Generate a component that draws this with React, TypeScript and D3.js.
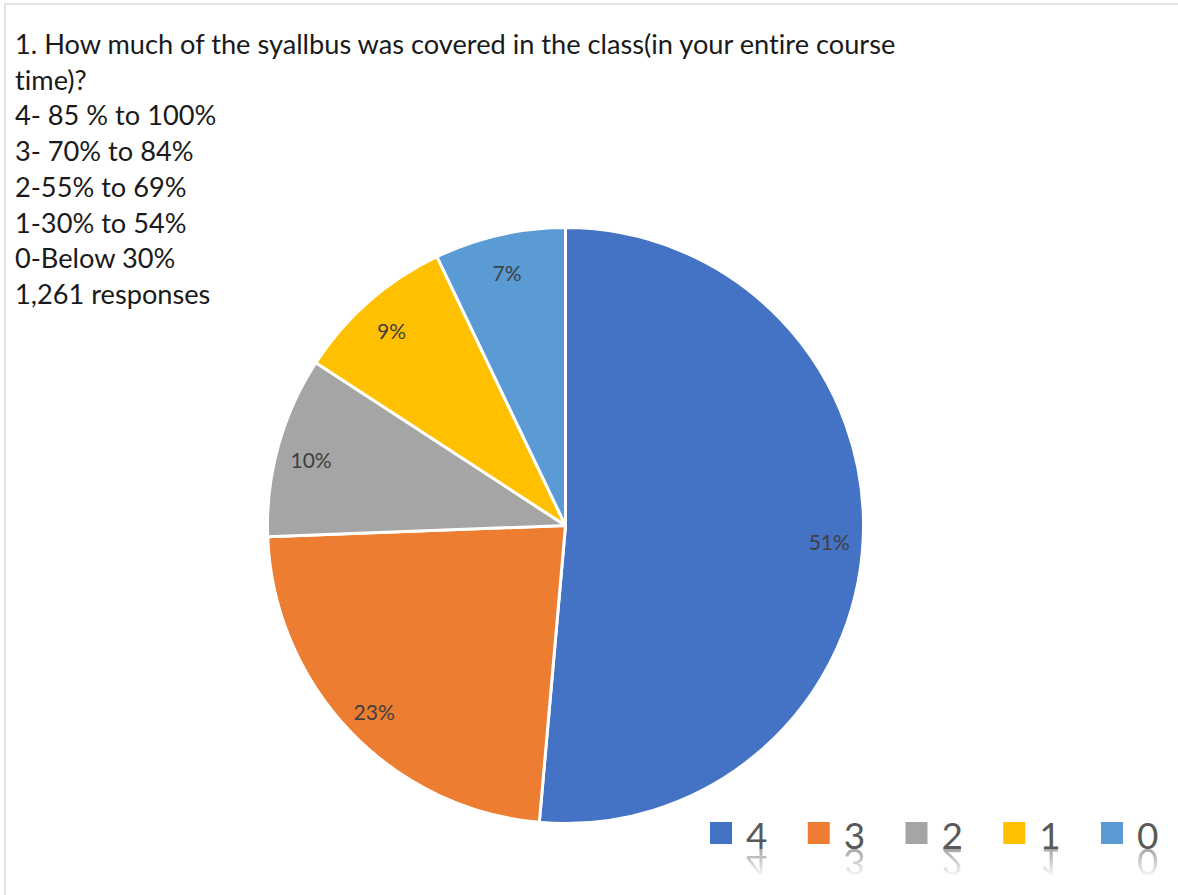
import React from "react";
import * as d3 from "d3";

const categories = ["4", "3", "2", "1", "0"];
const values = [51.4, 23.0, 9.8, 8.7, 7.1];
const colors = ["#4472C4", "#ED7D31", "#A5A5A5", "#FFC000", "#5B9BD5"];
const titleLines = [
  "1. How much of the syallbus was covered in the class(in your entire course",
  "time)?",
  "4- 85 % to 100%",
  "3- 70% to 84%",
  "2-55% to 69%",
  "1-30% to 54%",
  "0-Below 30%",
  "1,261 responses",
];

const W = 1178;
const H = 895;
const cx = 565.5;
const cy = 525.5;
const R = 298;
const labelR = 264;
const FONT = "Lato, 'Open Sans', sans-serif";

export default function App() {
  const pie = d3
    .pie<number>()
    .sort(null)
    .value((d) => d)
    .startAngle(0)
    .endAngle(2 * Math.PI);
  const arcs = pie(values);
  const arc = d3.arc<d3.PieArcDatum<number>>().innerRadius(0).outerRadius(R);
  const labelArc = d3
    .arc<d3.PieArcDatum<number>>()
    .innerRadius(labelR)
    .outerRadius(labelR);

  const legendX = d3
    .scalePoint<string>()
    .domain(categories)
    .range([710, 1101]);

  return (
    <svg
      width={W}
      height={H}
      style={{ position: "absolute", left: 0, top: 0, background: "#fff", fontVariantLigatures: "none" }}
    >
      <defs>
        <linearGradient id="reflGrad" x1="0" y1="0" x2="0" y2="1">
          <stop offset="0" stopColor="#fff" stopOpacity={0.55} />
          <stop offset="1" stopColor="#fff" stopOpacity={0} />
        </linearGradient>
        <mask id="reflMask" maskUnits="userSpaceOnUse" x={0} y={846} width={W} height={40}>
          <rect x={0} y={848} width={W} height={30} fill="url(#reflGrad)" />
        </mask>
        <filter id="blur1">
          <feGaussianBlur stdDeviation="0.6" />
        </filter>
      </defs>
      <rect x={0} y={0} width={W} height={H} fill="#fff" />
      <rect
        x={5}
        y={4}
        width={W + 20}
        height={H + 20}
        fill="none"
        stroke="#d9d9d9"
        strokeWidth={1.5}
      />
      <g fontFamily={FONT} fontSize={27.2} fill="#1a1a1a">
        {titleLines.map((t, i) => (
          <text key={i} x={15} y={54 + i * 35.7}>
            {t}
          </text>
        ))}
      </g>
      <g transform={`translate(${cx},${cy})`}>
        {arcs.map((a, i) => (
          <path
            key={i}
            d={arc(a) || ""}
            fill={colors[i]}
            stroke="#fff"
            strokeWidth={3}
            strokeLinejoin="round"
          />
        ))}
        {arcs.map((a, i) => {
          const [x, y] = labelArc.centroid(a);
          return (
            <text
              key={"l" + i}
              x={x}
              y={y + 4}
              textAnchor="middle"
              dominantBaseline="central"
              fontFamily={FONT}
              fontSize={21}
              fill="#404040"
            >
              {Math.round(values[i])}%
            </text>
          );
        })}
      </g>
      <g fontFamily={FONT}>
        {categories.map((c, i) => {
          const x = legendX(c) as number;
          return (
            <g key={c}>
              <rect x={x} y={822} width={22} height={22} fill={colors[i]} />
              <text x={x + 36} y={849} fontSize={37} fill="#595959">
                {c}
              </text>
            </g>
          );
        })}
        <g mask="url(#reflMask)" filter="url(#blur1)">
          {categories.map((c) => {
            const x = legendX(c) as number;
            return (
              <text
                key={"r" + c}
                x={x + 36}
                y={-849}
                transform="scale(1,-1)"
                fontSize={37}
                fill="#595959"
              >
                {c}
              </text>
            );
          })}
        </g>
      </g>
    </svg>
  );
}
